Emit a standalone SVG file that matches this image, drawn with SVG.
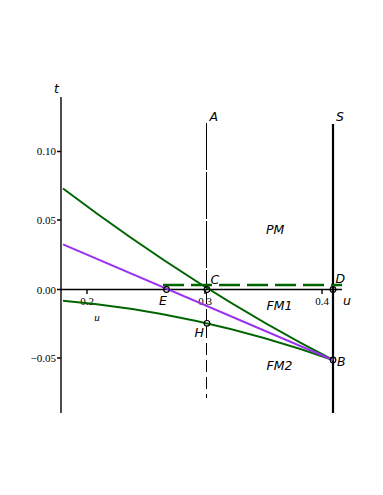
<svg xmlns="http://www.w3.org/2000/svg" width="383" height="495" viewBox="0 0 383 495">
<style>
.lbl{font-family:"DejaVu Sans",sans-serif;font-style:italic;font-size:12.5px;fill:#000}
.tk{font-family:"Liberation Serif",serif;font-size:11px;fill:#000}
.ax{stroke:#000;stroke-width:1.4;fill:none}
.grn{stroke:#006400;stroke-width:2;fill:none}
.pur{stroke:#9b30f0;stroke-width:2;fill:none}
.pt{fill:none;stroke:#000;stroke-width:1.2}
</style>
<rect width="383" height="495" fill="#fff"/>
<g id="axes">
<line class="ax" x1="61" y1="97" x2="61" y2="413"/>
<line class="ax" x1="61" y1="289.5" x2="342" y2="289.5"/>
<path class="ax" d="M57 151.5H61M57 220H61M57 289.5H61M57 358H61M87 289.5V294M205 289.5V294M322 289.5V294" stroke-width="1"/>
<text class="tk" x="56" y="155" text-anchor="end">0.10</text>
<text class="tk" x="56" y="223.5" text-anchor="end">0.05</text>
<text class="tk" x="56" y="293.5" text-anchor="end">0.00</text>
<text class="tk" x="56" y="362" text-anchor="end">−0.05</text>
<text class="tk" x="87" y="305" text-anchor="middle">0.2</text>
<text class="tk" x="205" y="305" text-anchor="middle">0.3</text>
<text class="tk" x="322" y="305" text-anchor="middle">0.4</text>
<text class="tk" x="97" y="320.5" text-anchor="middle" font-style="italic" font-size="10">u</text>
<text class="lbl" x="54" y="93" font-size="13">t</text>
<text class="lbl" x="343" y="304.5" font-size="13">u</text>
</g>
<g id="A">
<path d="M206.5 123V290" stroke="#000" stroke-width="1" stroke-dasharray="47 2"/>
<path d="M206.5 292V398" stroke="#000" stroke-width="1" stroke-dasharray="12 5"/>
<text class="lbl" x="209.5" y="120.5">A</text>
</g>
<g id="S">
<line x1="333" y1="124" x2="333" y2="413" stroke="#000" stroke-width="2.2"/>
<text class="lbl" x="336" y="120.5">S</text>
</g>
<g id="connectors">
<line x1="163" y1="285" x2="342" y2="285" stroke="#006400" stroke-width="2.5" stroke-dasharray="21 7"/>
<path class="grn" d="M63 188.5Q198 290.4 333 360"/>
<path class="grn" d="M63 300.7Q198 312.2 333 360"/>
<line class="pur" x1="63" y1="244.3" x2="333" y2="360"/>
</g>
<g id="C"><circle class="pt" cx="207" cy="289.5" r="2.8"/><text class="lbl" x="210.5" y="283.5">C</text></g>
<g id="D"><circle class="pt" cx="333" cy="289.5" r="2.8"/><text class="lbl" x="335.5" y="283">D</text></g>
<g id="E"><circle class="pt" cx="166.5" cy="289.5" r="2.8"/><text class="lbl" x="159" y="305">E</text></g>
<g id="H"><circle class="pt" cx="207" cy="323.3" r="2.8"/><text class="lbl" x="194.5" y="337">H</text></g>
<g id="B"><circle class="pt" cx="333" cy="360" r="2.8" stroke="#6a2aa0"/><text class="lbl" x="337" y="365.5">B</text></g>
<g id="PM"><text class="lbl" x="266" y="234">PM</text></g>
<g id="FM1"><text class="lbl" x="266.5" y="309.5">FM1</text></g>
<g id="FM2"><text class="lbl" x="266.5" y="370">FM2</text></g>
</svg>
